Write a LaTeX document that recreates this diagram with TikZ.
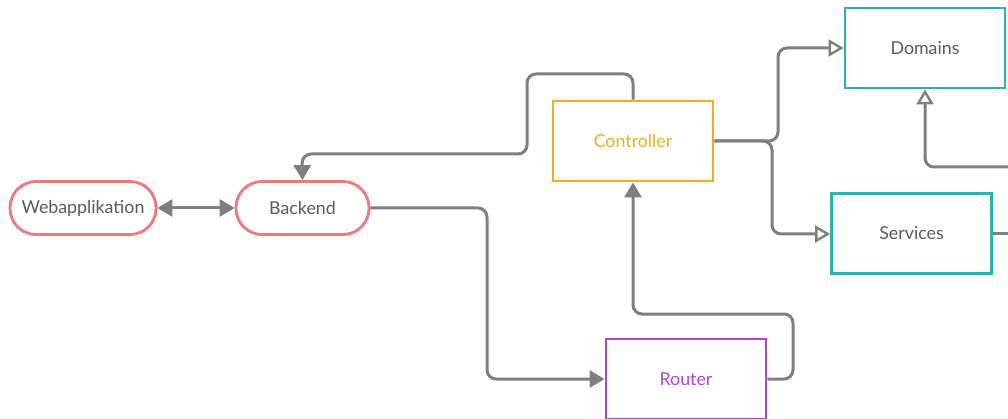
\documentclass[tikz,border=0pt]{standalone}
\usepackage{fontspec}
\setmainfont{Lato}
\usetikzlibrary{arrows.meta}
\definecolor{salmon}{HTML}{F07878}
\definecolor{ctrlorange}{HTML}{F0AE1E}
\definecolor{teal}{HTML}{2DB3AD}
\definecolor{routerpurple}{HTML}{B345C8}
\definecolor{linegray}{HTML}{7F7F7F}
\definecolor{textgray}{HTML}{5A5A5A}
\tikzset{
  pill/.style={draw=salmon, line width=2.8pt, rounded corners=26pt, minimum width=#1, minimum height=53pt, inner sep=0pt, text=textgray, fill=white},
  boxnode/.style={draw=#1, line width=2.8pt, minimum width=160pt, minimum height=80pt, inner sep=0pt, fill=white},
  conn/.style={draw=linegray, line width=3pt, rounded corners=9pt},
  solidtip/.style={-{Triangle[length=15pt,width=17pt]}},
  opentip/.style={-{Triangle[open,length=15pt,width=17pt,line width=2.4pt]}},
  every node/.style={font=\fontsize{17.8}{20}\selectfont}
}
\begin{document}
\begin{tikzpicture}[x=1pt,y=-1pt]
\useasboundingbox (0,0) rectangle (1008,419);
\node[pill=146pt] (web) at (83,208) {Webapplikation};
\node[pill=133pt] (back) at (302.5,208) {Backend};
\node[boxnode=ctrlorange, text=ctrlorange] (ctrl) at (633,141) {Controller};
\node[boxnode=teal, text=textgray] (dom) at (925,48) {Domains};
\node[boxnode=teal, text=textgray] (serv) at (911.5,233.5) {Services};
\node[boxnode=routerpurple, text=routerpurple] (rout) at (686,379) {Router};
\coordinate (servout) at (1008,234);
\coordinate (domin) at (1008,167);
% connectors
\draw[conn, {Triangle[length=15pt,width=17pt]}-{Triangle[length=15pt,width=17pt]}] (web.east) -- (back.west);
\draw[conn, solidtip] (ctrl.north) -- (633,74) -- (527,74) -- (527,154) -- (302,154) -- (back.north);
\draw[conn, solidtip] (back.east) -- (487,208) -- (487,379) -- (rout.west);
\draw[conn, solidtip] (rout.east) -- (793,379) -- (793,314) -- (633,314) -- (ctrl.south);
\draw[conn, opentip] (ctrl.east) -- (778,141) -- (778,48) -- (dom.west);
\draw[conn, opentip] (ctrl.east) -- (772,141) -- (772,234) -- (serv.west |- 0,234);
\draw[conn] (serv.east |- 0,234) -- (servout);
\draw[conn, opentip] (domin) -- (925,167) -- (dom.south);
\end{tikzpicture}
\end{document}
